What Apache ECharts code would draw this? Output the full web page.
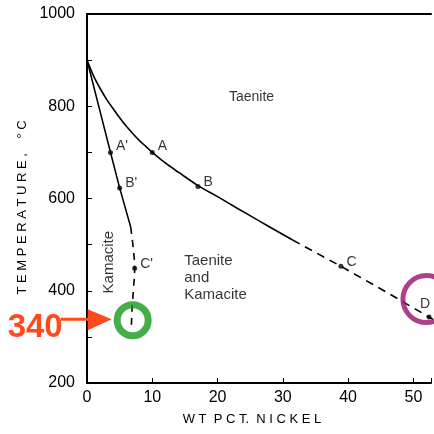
<!DOCTYPE html>
<html><head><meta charset="utf-8">
<script src="https://cdn.jsdelivr.net/npm/echarts@6/dist/echarts.min.js"></script>
<style>html,body{margin:0;padding:0;background:#fff}#c{width:434px;height:434px}</style>
</head><body><div id="c"></div>
<script>
// Phase boundary: taenite solvus (solid part, then extrapolated dashed part)
const taeniteSolid = [[0,900],[1,866],[2,839],[3,815],[4,795],[5,775],[6,757],[7,741],[8,726],[9,713],[10,700],[12,677],[14,657],[17,628],[20,604],[23,579],[26.3,552],[29,530],[31.5,510]];
const taeniteDashed = [[31.5,510],[38.9,453],[45.5,400],[53,338]];
// Kamacite boundary
const kamaciteSolid = [[0,900],[3.6,700],[5.0,623],[6.7,538]];
const kamaciteDashed = [[6.7,538],[7.1,490],[7.3,449],[7.1,400],[6.9,360],[6.8,322]];
// Labelled points
const pointNames = ['A','B','C','D',"A'","B'","C'"];
const pointX = [10,17,38.9,52.4,3.6,5.0,7.3];
const pointY = [700,626,453,343,700,623,449];
// Region labels
const regionNames = ['Taenite','Taenite\nand\nKamacite','Kamacite'];
const regionX = [25.2,14.9,3.4];
const regionY = [820,428,462];
// Highlight circles
const circleX = [7.0,52];
const circleY = [336,382];
const annotationText = '340';
const xTicks = [0,10,20,30,40,50];
const yTicks = [200,400,600,800,1000];

const FONT = 'Liberation Sans, Arial, sans-serif';
const chart = echarts.init(document.getElementById('c'));
const lineStyle = {color:'#000', width:1.6};
const labelCfg = {
  'A':{position:'right',offset:[0,-6]},
  'B':{position:'right',offset:[0,-4]},
  'C':{position:'right',offset:[0,-4]},
  'D':{position:'top',offset:[-4,0]},
  "A'":{position:'right',offset:[0,-6]},
  "B'":{position:'right',offset:[0,-5]},
  "C'":{position:'right',offset:[0,-4]}
};
const ptData = pointNames.map((n,i)=>({value:[pointX[i],pointY[i]],name:n,
  label:Object.assign({show:true,formatter:n,color:'#000',fontSize:14,fontFamily:FONT,distance:3},labelCfg[n])}));
const regData = regionNames.map((n,i)=>{
  const rot = n==='Kamacite';
  return {value:[regionX[i],regionY[i]],name:n,label:{show:true,formatter:n,color:'#000',
    fontSize: n==='Taenite'?14:15, fontFamily:FONT,
    position: rot?'inside':'right', distance:0, rotate: rot?90:0, align: rot?'center':(n==='Taenite'?'center':'left'),
    verticalAlign:'middle', lineHeight:17}};
});

chart.setOption({
  animation:false,
  backgroundColor:'#fff',
  grid:{left:87,right:0,top:14,bottom:51},
  xAxis:[{type:'value',min:0,max:52.7,interval:10,
    axisLine:{lineStyle:{color:'#000',width:2}},
    axisTick:{inside:true,length:5,lineStyle:{color:'#000'}},
    splitLine:{show:false},
    axisLabel:{color:'#000',fontSize:16,fontFamily:FONT,margin:7,
      formatter:v=>xTicks.includes(v)?String(v):''},
    name:'W T  P C T.  N I C K E L',nameLocation:'middle',nameGap:30,
    nameTextStyle:{color:'#000',fontSize:13,fontFamily:FONT,padding:[0,14,0,0]}},
   {type:'value',position:'top',min:0,max:52.7,
    axisLine:{show:true,lineStyle:{color:'#000',width:2}},axisTick:{show:false},axisLabel:{show:false},splitLine:{show:false}}],
  yAxis:{type:'value',min:200,max:1000,interval:100,
    axisLine:{lineStyle:{color:'#000',width:2}},
    axisTick:{inside:true,length:5,lineStyle:{color:'#000'}},
    splitLine:{show:false},
    axisLabel:{color:'#000',fontSize:16,fontFamily:FONT,margin:12,
      formatter:v=>yTicks.includes(v)?String(v):''},
    name:'T E M P E R A T U R E ,    ° C',nameLocation:'middle',nameGap:58,nameRotate:90,
    nameTextStyle:{color:'#000',fontSize:13,fontFamily:FONT,padding:[0,18,0,0]}},
  series:[
    {type:'line',data:taeniteSolid,smooth:0.3,showSymbol:false,lineStyle:lineStyle,z:3},
    {type:'line',data:taeniteDashed,smooth:false,showSymbol:false,lineStyle:Object.assign({type:[8,6]},lineStyle),z:3},
    {type:'line',data:kamaciteSolid,smooth:false,showSymbol:false,lineStyle:lineStyle,z:3},
    {type:'line',data:kamaciteDashed,smooth:0.4,showSymbol:false,lineStyle:Object.assign({type:[7,6]},lineStyle),z:3},
    {type:'scatter',data:ptData,symbolSize:5,itemStyle:{color:'#000'},z:4},
    {type:'scatter',data:regData,symbolSize:0,z:4},
    {type:'scatter',data:[[circleX[0],circleY[0]]],symbolSize:31,
      itemStyle:{color:'rgba(0,0,0,0)',borderColor:'#16991b',borderWidth:7},z:5},
    {type:'scatter',data:[[circleX[1],circleY[1]]],symbolSize:47,
      itemStyle:{color:'rgba(0,0,0,0)',borderColor:'#990f6e',borderWidth:5},z:5}
  ]
});

const c = chart.convertToPixel({xAxisIndex:0,yAxisIndex:0},[circleX[0],circleY[0]]);
const cx=c[0], cy=c[1];
const red='#ff4a1c';
chart.setOption({graphic:[
  {type:'line',shape:{x1:cx-72,y1:cy-1,x2:cx-40,y2:cy-1},style:{stroke:red,lineWidth:3},z:10},
  {type:'polygon',shape:{points:[[cx-21,cy-1],[cx-45,cy-11],[cx-45,cy+10]]},style:{fill:red},z:10},
  {type:'text',style:{text:annotationText,x:cx-70,y:cy+8,align:'right',verticalAlign:'middle',
    fill:red,font:'bold 33px '+FONT},z:11}
]});
</script></body></html>
